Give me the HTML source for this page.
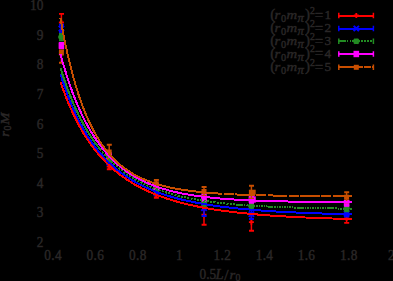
<!DOCTYPE html><html><head><meta charset="utf-8"><style>html,body{margin:0;padding:0;background:#000;overflow:hidden}</style></head><body><svg width="393" height="281" viewBox="0 0 393 281" style="display:block">
<rect width="393" height="281" fill="#000"/>
<path d="M61.4,13.9 V31" stroke="#ff0000" stroke-width="1.5" fill="none"/><path d="M59.0,13.9 H64.0 M59.0,31 H64.0" stroke="#ff0000" stroke-width="1.9" fill="none"/>
<path d="M58.9,22.5 H63.9 M61.4,20.0 V25.0" stroke="#ff0000" stroke-width="1.8" fill="none"/>
<path d="M109.2,164 V169.2" stroke="#ff0000" stroke-width="1.5" fill="none"/><path d="M106.8,164 H111.8 M106.8,169.2 H111.8" stroke="#ff0000" stroke-width="1.9" fill="none"/>
<path d="M106.7,166.5 H111.7 M109.2,164.0 V169.0" stroke="#ff0000" stroke-width="1.8" fill="none"/>
<path d="M156.3,193 V197.8" stroke="#ff0000" stroke-width="1.5" fill="none"/><path d="M153.9,193 H158.9 M153.9,197.8 H158.9" stroke="#ff0000" stroke-width="1.9" fill="none"/>
<path d="M153.8,195.5 H158.8 M156.3,193.0 V198.0" stroke="#ff0000" stroke-width="1.8" fill="none"/>
<path d="M204.0,204.6 V224.8" stroke="#ff0000" stroke-width="1.5" fill="none"/><path d="M201.6,204.6 H206.6 M201.6,224.8 H206.6" stroke="#ff0000" stroke-width="1.9" fill="none"/>
<path d="M201.5,214.7 H206.5 M204.0,212.2 V217.2" stroke="#ff0000" stroke-width="1.8" fill="none"/>
<path d="M251.4,213.8 V230.7" stroke="#ff0000" stroke-width="1.5" fill="none"/><path d="M249.0,213.8 H254.0 M249.0,230.7 H254.0" stroke="#ff0000" stroke-width="1.9" fill="none"/>
<path d="M248.9,222.2 H253.9 M251.4,219.7 V224.7" stroke="#ff0000" stroke-width="1.8" fill="none"/>
<path d="M346.6,214.2 V222.9" stroke="#ff0000" stroke-width="1.5" fill="none"/><path d="M344.20000000000005,214.2 H349.20000000000005 M344.20000000000005,222.9 H349.20000000000005" stroke="#ff0000" stroke-width="1.9" fill="none"/>
<path d="M344.1,218.5 H349.1 M346.6,216.0 V221.0" stroke="#ff0000" stroke-width="1.8" fill="none"/>
<path d="M61.4,24.8 V32.4" stroke="#0000ff" stroke-width="1.5" fill="none"/><path d="M59.0,24.8 H64.0 M59.0,32.4 H64.0" stroke="#0000ff" stroke-width="1.9" fill="none"/>
<path d="M59.4,26.6 L63.4,30.6 M59.4,30.6 L63.4,26.6" stroke="#0000ff" stroke-width="1.9" stroke-linecap="square" fill="none"/>
<path d="M109.2,160 V164.5" stroke="#0000ff" stroke-width="1.5" fill="none"/><path d="M106.8,160 H111.8 M106.8,164.5 H111.8" stroke="#0000ff" stroke-width="1.9" fill="none"/>
<path d="M107.2,160.3 L111.2,164.3 M107.2,164.3 L111.2,160.3" stroke="#0000ff" stroke-width="1.9" stroke-linecap="square" fill="none"/>
<path d="M156.3,190.5 V195" stroke="#0000ff" stroke-width="1.5" fill="none"/><path d="M153.9,190.5 H158.9 M153.9,195 H158.9" stroke="#0000ff" stroke-width="1.9" fill="none"/>
<path d="M154.3,190.8 L158.3,194.8 M154.3,194.8 L158.3,190.8" stroke="#0000ff" stroke-width="1.9" stroke-linecap="square" fill="none"/>
<path d="M204.0,200.4 V216" stroke="#0000ff" stroke-width="1.5" fill="none"/><path d="M201.6,200.4 H206.6 M201.6,216 H206.6" stroke="#0000ff" stroke-width="1.9" fill="none"/>
<path d="M202.0,206.2 L206.0,210.2 M202.0,210.2 L206.0,206.2" stroke="#0000ff" stroke-width="1.9" stroke-linecap="square" fill="none"/>
<path d="M251.4,209.5 V219" stroke="#0000ff" stroke-width="1.5" fill="none"/><path d="M249.0,209.5 H254.0 M249.0,219 H254.0" stroke="#0000ff" stroke-width="1.9" fill="none"/>
<path d="M249.4,212.2 L253.4,216.2 M249.4,216.2 L253.4,212.2" stroke="#0000ff" stroke-width="1.9" stroke-linecap="square" fill="none"/>
<path d="M346.6,211 V216.6" stroke="#0000ff" stroke-width="1.5" fill="none"/><path d="M344.20000000000005,211 H349.20000000000005 M344.20000000000005,216.6 H349.20000000000005" stroke="#0000ff" stroke-width="1.9" fill="none"/>
<path d="M344.6,211.8 L348.6,215.8 M344.6,215.8 L348.6,211.8" stroke="#0000ff" stroke-width="1.9" stroke-linecap="square" fill="none"/>
<path d="M61.4,34 V40.2" stroke="#228b22" stroke-width="1.5" fill="none"/><path d="M59.0,34 H64.0 M59.0,40.2 H64.0" stroke="#228b22" stroke-width="1.9" fill="none"/>
<path d="M59.1,34.7 L63.699999999999996,39.3 M59.1,39.3 L63.699999999999996,34.7 M58.199999999999996,37 H64.6 M61.4,34.2 V39.8" stroke="#228b22" stroke-width="2" fill="none"/>
<path d="M109.2,157.3 V161.5" stroke="#228b22" stroke-width="1.5" fill="none"/><path d="M106.8,157.3 H111.8 M106.8,161.5 H111.8" stroke="#228b22" stroke-width="1.9" fill="none"/>
<path d="M106.9,157.0 L111.5,161.60000000000002 M106.9,161.60000000000002 L111.5,157.0 M106.0,159.3 H112.4 M109.2,156.5 V162.10000000000002" stroke="#228b22" stroke-width="2" fill="none"/>
<path d="M156.3,187.5 V191.8" stroke="#228b22" stroke-width="1.5" fill="none"/><path d="M153.9,187.5 H158.9 M153.9,191.8 H158.9" stroke="#228b22" stroke-width="1.9" fill="none"/>
<path d="M154.0,187.29999999999998 L158.60000000000002,191.9 M154.0,191.9 L158.60000000000002,187.29999999999998 M153.10000000000002,189.6 H159.5 M156.3,186.79999999999998 V192.4" stroke="#228b22" stroke-width="2" fill="none"/>
<path d="M204.0,199.5 V206.3" stroke="#228b22" stroke-width="1.5" fill="none"/><path d="M201.6,199.5 H206.6 M201.6,206.3 H206.6" stroke="#228b22" stroke-width="1.9" fill="none"/>
<path d="M201.7,200.6 L206.3,205.20000000000002 M201.7,205.20000000000002 L206.3,200.6 M200.8,202.9 H207.2 M204.0,200.1 V205.70000000000002" stroke="#228b22" stroke-width="2" fill="none"/>
<path d="M251.4,202.5 V209.5" stroke="#228b22" stroke-width="1.5" fill="none"/><path d="M249.0,202.5 H254.0 M249.0,209.5 H254.0" stroke="#228b22" stroke-width="1.9" fill="none"/>
<path d="M249.1,203.7 L253.70000000000002,208.3 M249.1,208.3 L253.70000000000002,203.7 M248.20000000000002,206 H254.6 M251.4,203.2 V208.8" stroke="#228b22" stroke-width="2" fill="none"/>
<path d="M346.6,205.8 V211.4" stroke="#228b22" stroke-width="1.5" fill="none"/><path d="M344.20000000000005,205.8 H349.20000000000005 M344.20000000000005,211.4 H349.20000000000005" stroke="#228b22" stroke-width="1.9" fill="none"/>
<path d="M344.3,206.29999999999998 L348.90000000000003,210.9 M344.3,210.9 L348.90000000000003,206.29999999999998 M343.40000000000003,208.6 H349.8 M346.6,205.79999999999998 V211.4" stroke="#228b22" stroke-width="2" fill="none"/>
<path d="M61.4,43 V48.2" stroke="#ff00ff" stroke-width="1.5" fill="none"/><path d="M59.0,43 H64.0 M59.0,48.2 H64.0" stroke="#ff00ff" stroke-width="1.9" fill="none"/>
<rect x="58.6" y="42.4" width="5.6" height="6.4" fill="#ff00ff"/>
<path d="M109.2,153.5 V158" stroke="#ff00ff" stroke-width="1.5" fill="none"/><path d="M106.8,153.5 H111.8 M106.8,158 H111.8" stroke="#ff00ff" stroke-width="1.9" fill="none"/>
<rect x="106.4" y="152.60000000000002" width="5.6" height="6.4" fill="#ff00ff"/>
<path d="M156.3,184.5 V189" stroke="#ff00ff" stroke-width="1.5" fill="none"/><path d="M153.9,184.5 H158.9 M153.9,189 H158.9" stroke="#ff00ff" stroke-width="1.9" fill="none"/>
<rect x="153.5" y="183.60000000000002" width="5.6" height="6.4" fill="#ff00ff"/>
<path d="M204.0,194.5 V200.8" stroke="#ff00ff" stroke-width="1.5" fill="none"/><path d="M201.6,194.5 H206.6 M201.6,200.8 H206.6" stroke="#ff00ff" stroke-width="1.9" fill="none"/>
<rect x="201.2" y="194.4" width="5.6" height="6.4" fill="#ff00ff"/>
<path d="M251.4,196.3 V202.8" stroke="#ff00ff" stroke-width="1.5" fill="none"/><path d="M249.0,196.3 H254.0 M249.0,202.8 H254.0" stroke="#ff00ff" stroke-width="1.9" fill="none"/>
<rect x="248.6" y="196.3" width="7.199999999999999" height="6.4" fill="#ff00ff"/>
<path d="M346.6,200.6 V205.8" stroke="#ff00ff" stroke-width="1.5" fill="none"/><path d="M344.20000000000005,200.6 H349.20000000000005 M344.20000000000005,205.8 H349.20000000000005" stroke="#ff00ff" stroke-width="1.9" fill="none"/>
<rect x="343.8" y="200.0" width="5.6" height="6.4" fill="#ff00ff"/>
<path d="M61.4,50.5 V62.7" stroke="#c84e00" stroke-width="1.5" fill="none"/><path d="M59.0,50.5 H64.0 M59.0,62.7 H64.0" stroke="#c84e00" stroke-width="1.9" fill="none"/>
<rect x="58.9" y="50.5" width="5" height="5" fill="#c84e00"/>
<path d="M109.2,144.7 V159" stroke="#c84e00" stroke-width="1.5" fill="none"/><path d="M106.8,144.7 H111.8 M106.8,159 H111.8" stroke="#c84e00" stroke-width="1.9" fill="none"/>
<rect x="106.7" y="149.5" width="5" height="5" fill="#c84e00"/>
<path d="M156.3,180 V187.6" stroke="#c84e00" stroke-width="1.5" fill="none"/><path d="M153.9,180 H158.9 M153.9,187.6 H158.9" stroke="#c84e00" stroke-width="1.9" fill="none"/>
<rect x="153.8" y="181.3" width="5" height="5" fill="#c84e00"/>
<path d="M204.0,187 V196" stroke="#c84e00" stroke-width="1.5" fill="none"/><path d="M201.6,187 H206.6 M201.6,196 H206.6" stroke="#c84e00" stroke-width="1.9" fill="none"/>
<rect x="201.5" y="189.0" width="5" height="5" fill="#c84e00"/>
<path d="M251.4,185.8 V198.6" stroke="#c84e00" stroke-width="1.5" fill="none"/><path d="M249.0,185.8 H254.0 M249.0,198.6 H254.0" stroke="#c84e00" stroke-width="1.9" fill="none"/>
<rect x="248.9" y="189.7" width="6.8" height="5" fill="#c84e00"/>
<path d="M346.6,192.2 V202.2" stroke="#c84e00" stroke-width="1.5" fill="none"/><path d="M344.20000000000005,192.2 H349.20000000000005 M344.20000000000005,202.2 H349.20000000000005" stroke="#c84e00" stroke-width="1.9" fill="none"/>
<rect x="344.1" y="194.7" width="5" height="5" fill="#c84e00"/>
<path d="M60.4,81.7 L62.8,88.7 L65.3,95.3 L67.7,101.5 L70.2,107.3 L72.6,112.7 L75.1,117.9 L77.5,122.7 L80.0,127.2 L82.4,131.5 L84.9,135.5 L87.3,139.3 L89.8,142.9 L92.2,146.3 L94.7,149.6 L97.1,152.6 L99.6,155.5 L102.0,158.3 L104.5,160.9 L106.9,163.4 L109.4,165.7 L111.8,168.0 L114.3,170.1 L116.7,172.1 L119.2,174.1 L121.6,175.9 L124.1,177.7 L126.5,179.4 L129.0,181.0 L131.4,182.5 L133.9,184.0 L136.3,185.4 L138.8,186.7 L141.2,188.0 L143.7,189.2 L146.1,190.4 L148.6,191.5 L151.0,192.6 L153.5,193.6 L155.9,194.6 L158.3,195.6 L160.8,196.5 L163.2,197.3 L165.7,198.2 L168.1,199.0 L170.6,199.8 L173.0,200.5 L175.5,201.2 L177.9,201.9 L180.4,202.6 L182.8,203.2 L185.3,203.8 L187.7,204.4 L190.2,204.9 L192.6,205.5 L195.1,206.0 L197.5,206.5 L200.0,207.0 L202.4,207.5 L204.9,207.9 L207.3,208.3 L209.8,208.8 L212.2,209.2 L214.7,209.6 L217.1,209.9 L219.6,210.3 L222.0,210.6 L224.5,211.0 L226.9,211.3 L229.4,211.6 L231.8,211.9 L234.3,212.2 L236.7,212.5 L239.2,212.8 L241.6,213.0 L244.1,213.3 L246.5,213.5 L249.0,213.8 L251.4,214.0 L253.9,214.2 L256.3,214.4 L258.7,214.6 L261.2,214.8 L263.6,215.0 L266.1,215.2 L268.5,215.4 L271.0,215.6 L273.4,215.7 L275.9,215.9 L278.3,216.1 L280.8,216.2 L283.2,216.4 L285.7,216.5 L288.1,216.6 L290.6,216.8 L293.0,216.9 L295.5,217.0 L297.9,217.2 L300.4,217.3 L302.8,217.4 L305.3,217.5 L307.7,217.6 L310.2,217.7 L312.6,217.8 L315.1,217.9 L317.5,218.0 L320.0,218.1 L322.4,218.2 L324.9,218.3 L327.3,218.4 L329.8,218.4 L332.2,218.5 L334.7,218.6 L337.1,218.7 L339.6,218.7 L342.0,218.8 L344.5,218.9 L346.9,218.9 L349.4,219.0 L351.8,219.1" fill="none" stroke="#ff0000" stroke-width="2" shape-rendering="crispEdges"/>
<path d="M60.4,73.7 L62.8,81.4 L65.3,88.6 L67.7,95.3 L70.2,101.6 L72.6,107.4 L75.1,112.9 L77.5,118.0 L80.0,122.9 L82.4,127.4 L84.9,131.6 L87.3,135.6 L89.8,139.4 L92.2,142.9 L94.7,146.3 L97.1,149.5 L99.6,152.5 L102.0,155.3 L104.5,158.0 L106.9,160.5 L109.4,162.9 L111.8,165.2 L114.3,167.3 L116.7,169.4 L119.2,171.3 L121.6,173.2 L124.1,174.9 L126.5,176.6 L129.0,178.2 L131.4,179.7 L133.9,181.2 L136.3,182.6 L138.8,183.9 L141.2,185.1 L143.7,186.3 L146.1,187.5 L148.6,188.6 L151.0,189.6 L153.5,190.6 L155.9,191.6 L158.3,192.5 L160.8,193.4 L163.2,194.2 L165.7,195.0 L168.1,195.8 L170.6,196.5 L173.0,197.2 L175.5,197.9 L177.9,198.6 L180.4,199.2 L182.8,199.8 L185.3,200.3 L187.7,200.9 L190.2,201.4 L192.6,201.9 L195.1,202.4 L197.5,202.9 L200.0,203.3 L202.4,203.8 L204.9,204.2 L207.3,204.6 L209.8,205.0 L212.2,205.4 L214.7,205.7 L217.1,206.1 L219.6,206.4 L222.0,206.7 L224.5,207.0 L226.9,207.3 L229.4,207.6 L231.8,207.9 L234.3,208.1 L236.7,208.4 L239.2,208.6 L241.6,208.9 L244.1,209.1 L246.5,209.3 L249.0,209.5 L251.4,209.7 L253.9,209.9 L256.3,210.1 L258.7,210.3 L261.2,210.5 L263.6,210.7 L266.1,210.8 L268.5,211.0 L271.0,211.2 L273.4,211.3 L275.9,211.5 L278.3,211.6 L280.8,211.7 L283.2,211.9 L285.7,212.0 L288.1,212.1 L290.6,212.2 L293.0,212.3 L295.5,212.5 L297.9,212.6 L300.4,212.7 L302.8,212.8 L305.3,212.9 L307.7,213.0 L310.2,213.0 L312.6,213.1 L315.1,213.2 L317.5,213.3 L320.0,213.4 L322.4,213.5 L324.9,213.5 L327.3,213.6 L329.8,213.7 L332.2,213.7 L334.7,213.8 L337.1,213.9 L339.6,213.9 L342.0,214.0 L344.5,214.0 L346.9,214.1 L349.4,214.2 L351.8,214.2" fill="none" stroke="#0000ff" stroke-width="2" shape-rendering="crispEdges"/>
<path d="M60.4,67.7 L61.1,69.9 L61.7,72.0 L62.4,74.1 L63.1,76.2 L63.8,78.2 L64.4,80.2 L65.1,82.1 L65.8,84.0 L66.4,85.9 L67.1,87.8 L67.8,89.6 L68.5,91.4 L69.1,93.1 L69.8,94.8 L70.5,96.5 L71.1,98.2 L71.8,99.8 L72.5,101.4 L73.2,103.0 L73.8,104.6 L74.5,106.1 L75.2,107.6 L75.8,109.1 L76.5,110.5 L77.2,112.0 L77.9,113.4 L78.5,114.8 L79.2,116.1 L79.9,117.5 L80.5,118.8 L81.2,120.1 L81.9,121.3 L82.5,122.6 L83.2,123.8 L83.9,125.0 L84.6,126.2 L85.2,127.4 L85.9,128.6 L86.6,129.7 L87.2,130.8 L87.9,131.9 L88.6,133.0 L89.3,134.1 L89.9,135.1 L90.6,136.1 L91.3,137.2 L91.9,138.2 L92.6,139.2 L93.3,140.1 L94.0,141.1 L94.6,142.0 L95.3,142.9 L96.0,143.9 L96.6,144.8 L97.3,145.6 L98.0,146.5 L98.7,147.4 L99.3,148.2 L100.0,149.0" fill="none" stroke="#228b22" stroke-width="2" shape-rendering="crispEdges"/>
<path d="M100.0,149.0 L102.0,151.4 L103.9,153.7 L105.9,155.9 L107.9,157.9 L109.9,159.9 L111.8,161.8 L113.8,163.6 L115.8,165.4 L117.7,167.1 L119.7,168.7 L121.7,170.2 L123.7,171.7 L125.6,173.1 L127.6,174.5 L129.6,175.8 L131.5,177.0 L133.5,178.2 L135.5,179.4 L137.4,180.5 L139.4,181.5 L141.4,182.5 L143.4,183.5 L145.3,184.5 L147.3,185.4 L149.3,186.2 L151.2,187.1 L153.2,187.9 L155.2,188.7 L157.2,189.4 L159.1,190.1 L161.1,190.8 L163.1,191.5 L165.0,192.1 L167.0,192.7 L169.0,193.3 L171.0,193.9 L172.9,194.4 L174.9,194.9 L176.9,195.4 L178.8,195.9 L180.8,196.4 L182.8,196.9 L184.8,197.3 L186.7,197.7 L188.7,198.1 L190.7,198.5 L192.6,198.9 L194.6,199.2 L196.6,199.6 L198.6,199.9 L200.5,200.2 L202.5,200.6 L204.5,200.9 L206.4,201.2 L208.4,201.4 L210.4,201.7 L212.3,202.0 L214.3,202.2 L216.3,202.5 L218.3,202.7 L220.2,202.9 L222.2,203.1 L224.2,203.3 L226.1,203.5 L228.1,203.7 L230.1,203.9 L232.1,204.1 L234.0,204.3 L236.0,204.5" fill="none" stroke="#228b22" stroke-width="2" shape-rendering="crispEdges" stroke-dasharray="2,1.3"/>
<path d="M236.0,204.5 L238.0,204.6 L239.9,204.8 L241.9,204.9 L243.9,205.1 L245.8,205.2 L247.8,205.4 L249.7,205.5 L251.7,205.6 L253.7,205.7 L255.6,205.9 L257.6,206.0 L259.6,206.1 L261.5,206.2 L263.5,206.3 L265.4,206.4 L267.4,206.5 L269.4,206.6 L271.3,206.7 L273.3,206.8 L275.3,206.8 L277.2,206.9 L279.2,207.0 L281.1,207.1 L283.1,207.2 L285.1,207.2 L287.0,207.3 L289.0,207.4 L291.0,207.4 L292.9,207.5 L294.9,207.5 L296.8,207.6 L298.8,207.7 L300.8,207.7 L302.7,207.8 L304.7,207.8 L306.7,207.9 L308.6,207.9 L310.6,208.0 L312.5,208.0 L314.5,208.0 L316.5,208.1 L318.4,208.1 L320.4,208.2 L322.4,208.2 L324.3,208.2 L326.3,208.3 L328.2,208.3 L330.2,208.3 L332.2,208.4 L334.1,208.4 L336.1,208.4 L338.1,208.5 L340.0,208.5 L342.0,208.5 L343.9,208.5 L345.9,208.6 L347.9,208.6 L349.8,208.6 L351.8,208.6" fill="none" stroke="#228b22" stroke-width="2" shape-rendering="crispEdges" stroke-dasharray="7,1,1.5,1,1.5,1,1.5,1,1.5,1,1.5,1,1.5,1,1.5,1,1.5,1,1.5,1"/>
<path d="M60.4,54.0 L62.8,62.8 L65.3,70.9 L67.7,78.6 L70.2,85.8 L72.6,92.6 L75.1,98.9 L77.5,104.9 L80.0,110.4 L82.4,115.7 L84.9,120.6 L87.3,125.2 L89.8,129.6 L92.2,133.7 L94.7,137.5 L97.1,141.2 L99.6,144.6 L102.0,147.8 L104.5,150.8 L106.9,153.7 L109.4,156.4 L111.8,158.9 L114.3,161.3 L116.7,163.6 L119.2,165.7 L121.6,167.7 L124.1,169.6 L126.5,171.4 L129.0,173.0 L131.4,174.6 L133.9,176.1 L136.3,177.6 L138.8,178.9 L141.2,180.2 L143.7,181.4 L146.1,182.5 L148.6,183.5 L151.0,184.6 L153.5,185.5 L155.9,186.4 L158.3,187.3 L160.8,188.1 L163.2,188.8 L165.7,189.5 L168.1,190.2 L170.6,190.9 L173.0,191.5 L175.5,192.1 L177.9,192.6 L180.4,193.1 L182.8,193.6 L185.3,194.1 L187.7,194.5 L190.2,194.9 L192.6,195.3 L195.1,195.7 L197.5,196.0 L200.0,196.4 L202.4,196.7 L204.9,197.0 L207.3,197.3 L209.8,197.5 L212.2,197.8 L214.7,198.0 L217.1,198.2 L219.6,198.5 L222.0,198.7 L224.5,198.9 L226.9,199.0 L229.4,199.2 L231.8,199.4 L234.3,199.5 L236.7,199.7 L239.2,199.8 L241.6,199.9 L244.1,200.1 L246.5,200.2 L249.0,200.3 L251.4,200.4 L253.9,200.5 L256.3,200.6 L258.7,200.7 L261.2,200.8 L263.6,200.9 L266.1,200.9 L268.5,201.0 L271.0,201.1 L273.4,201.2 L275.9,201.2 L278.3,201.3 L280.8,201.3 L283.2,201.4 L285.7,201.4 L288.1,201.5 L290.6,201.5 L293.0,201.6 L295.5,201.6 L297.9,201.7 L300.4,201.7 L302.8,201.7 L305.3,201.8 L307.7,201.8 L310.2,201.8 L312.6,201.9 L315.1,201.9 L317.5,201.9 L320.0,201.9 L322.4,202.0 L324.9,202.0 L327.3,202.0 L329.8,202.0 L332.2,202.0 L334.7,202.1 L337.1,202.1 L339.6,202.1 L342.0,202.1 L344.5,202.1 L346.9,202.1 L349.4,202.1 L351.8,202.2" fill="none" stroke="#ff00ff" stroke-width="2" shape-rendering="crispEdges"/>
<path d="M60.4,17.9 L62.8,31.1 L65.2,43.3 L67.6,54.4 L70.1,64.6 L72.5,74.1 L74.9,82.7 L77.3,90.7 L79.7,98.0 L82.1,104.8 L84.5,111.1 L86.9,116.9 L89.4,122.3 L91.8,127.2 L94.2,131.8 L96.6,136.1 L99.0,140.0 L101.4,143.7 L103.8,147.1 L106.3,150.3 L108.7,153.3 L111.1,156.0 L113.5,158.6 L115.9,160.9 L118.3,163.2 L120.7,165.2 L123.2,167.2 L125.6,169.0 L128.0,170.6 L130.4,172.2 L132.8,173.7 L135.2,175.1 L137.6,176.3 L140.0,177.6 L142.5,178.7 L144.9,179.7 L147.3,180.7 L149.7,181.6 L152.1,182.5 L154.5,183.3 L156.9,184.1 L159.4,184.8 L161.8,185.5 L164.2,186.1 L166.6,186.7 L169.0,187.2 L171.4,187.8 L173.8,188.2 L176.3,188.7 L178.7,189.1 L181.1,189.5 L183.5,189.9 L185.9,190.3 L188.3,190.6 L190.7,190.9 L193.1,191.2 L195.6,191.5 L198.0,191.8 L200.4,192.0 L202.8,192.3" fill="none" stroke="#c84e00" stroke-width="2" shape-rendering="crispEdges"/>
<path d="M202.8,192.3 L204.7,192.4 L206.6,192.6 L208.5,192.8 L210.3,192.9 L212.2,193.1 L214.1,193.2 L216.0,193.3 L217.9,193.5 L219.8,193.6 L221.7,193.7 L223.5,193.8 L225.4,193.9 L227.3,194.0 L229.2,194.1 L231.1,194.2 L233.0,194.3 L234.9,194.4 L236.7,194.5 L238.6,194.5 L240.5,194.6 L242.4,194.7 L244.3,194.7 L246.2,194.8 L248.1,194.9 L250.0,194.9 L251.8,195.0 L253.7,195.0 L255.6,195.1 L257.5,195.1 L259.4,195.2 L261.3,195.2 L263.2,195.3 L265.0,195.3 L266.9,195.3 L268.8,195.4 L270.7,195.4 L272.6,195.5 L274.5,195.5 L276.4,195.5 L278.2,195.5 L280.1,195.6 L282.0,195.6 L283.9,195.6 L285.8,195.7 L287.7,195.7 L289.6,195.7 L291.4,195.7 L293.3,195.7 L295.2,195.8 L297.1,195.8 L299.0,195.8 L300.9,195.8 L302.8,195.8 L304.6,195.9 L306.5,195.9 L308.4,195.9 L310.3,195.9 L312.2,195.9 L314.1,195.9 L316.0,195.9 L317.9,196.0 L319.7,196.0 L321.6,196.0 L323.5,196.0 L325.4,196.0 L327.3,196.0 L329.2,196.0 L331.1,196.0 L332.9,196.0 L334.8,196.0 L336.7,196.1 L338.6,196.1 L340.5,196.1 L342.4,196.1 L344.3,196.1 L346.1,196.1 L348.0,196.1 L349.9,196.1 L351.8,196.1" fill="none" stroke="#c84e00" stroke-width="2" shape-rendering="crispEdges" stroke-dasharray="19.5,1.5,10,1.5"/>
<path d="M338.3,15.5 H373.8" stroke="#ff0000" stroke-width="2" shape-rendering="crispEdges"/>
<path d="M338.8,12.8 V18.2 M373.4,12.8 V18.2" stroke="#ff0000" stroke-width="1.5"/>
<path d="M353.8,15.5 H358.8 M356.3,13.0 V18.0" stroke="#ff0000" stroke-width="1.8" fill="none"/>
<path d="M338.3,28.5 H373.8" stroke="#0000ff" stroke-width="2" shape-rendering="crispEdges"/>
<path d="M338.8,25.8 V31.2 M373.4,25.8 V31.2" stroke="#0000ff" stroke-width="1.5"/>
<path d="M354.3,26.5 L358.3,30.5 M354.3,30.5 L358.3,26.5" stroke="#0000ff" stroke-width="1.9" stroke-linecap="square" fill="none"/>
<path d="M338.3,41.3 H345.6" stroke="#228b22" stroke-width="2" shape-rendering="crispEdges"/>
<path d="M346.6,41.3 H373.8" stroke="#228b22" stroke-width="2" shape-rendering="crispEdges" stroke-dasharray="1.7,1.2"/>
<path d="M338.8,38.599999999999994 V44.0 M373.4,38.599999999999994 V44.0" stroke="#228b22" stroke-width="1.5"/>
<path d="M354.0,39.0 L358.6,43.599999999999994 M354.0,43.599999999999994 L358.6,39.0 M353.1,41.3 H359.5 M356.3,38.5 V44.099999999999994" stroke="#228b22" stroke-width="2" fill="none"/>
<path d="M338.3,54 H373.8" stroke="#ff00ff" stroke-width="2" shape-rendering="crispEdges"/>
<path d="M338.8,51.3 V56.7 M373.4,51.3 V56.7" stroke="#ff00ff" stroke-width="1.5"/>
<rect x="353.5" y="50.8" width="5.6" height="6.4" fill="#ff00ff"/>
<path d="M338.3,67.3 H373.8" stroke="#c84e00" stroke-width="2" shape-rendering="crispEdges" stroke-dasharray="24.4,1.6,6.5,1.6"/>
<path d="M338.8,64.6 V70.0 M373.4,64.6 V70.0" stroke="#c84e00" stroke-width="1.5"/>
<rect x="353.8" y="64.8" width="5" height="5" fill="#c84e00"/>
<text transform="translate(43.4,246.6) scale(1.0,1.07)" font-size="13.3" text-anchor="end" font-family="Liberation Serif, serif" fill="#2a2727" stroke="#2a2727" stroke-width="0.4">2</text>
<text transform="translate(43.4,217.1) scale(1.0,1.07)" font-size="13.3" text-anchor="end" font-family="Liberation Serif, serif" fill="#2a2727" stroke="#2a2727" stroke-width="0.4">3</text>
<text transform="translate(43.4,187.5) scale(1.0,1.07)" font-size="13.3" text-anchor="end" font-family="Liberation Serif, serif" fill="#2a2727" stroke="#2a2727" stroke-width="0.4">4</text>
<text transform="translate(43.4,158.0) scale(1.0,1.07)" font-size="13.3" text-anchor="end" font-family="Liberation Serif, serif" fill="#2a2727" stroke="#2a2727" stroke-width="0.4">5</text>
<text transform="translate(43.4,128.5) scale(1.0,1.07)" font-size="13.3" text-anchor="end" font-family="Liberation Serif, serif" fill="#2a2727" stroke="#2a2727" stroke-width="0.4">6</text>
<text transform="translate(43.4,98.9) scale(1.0,1.07)" font-size="13.3" text-anchor="end" font-family="Liberation Serif, serif" fill="#2a2727" stroke="#2a2727" stroke-width="0.4">7</text>
<text transform="translate(43.4,69.4) scale(1.0,1.07)" font-size="13.3" text-anchor="end" font-family="Liberation Serif, serif" fill="#2a2727" stroke="#2a2727" stroke-width="0.4">8</text>
<text transform="translate(43.4,39.9) scale(1.0,1.07)" font-size="13.3" text-anchor="end" font-family="Liberation Serif, serif" fill="#2a2727" stroke="#2a2727" stroke-width="0.4">9</text>
<text transform="translate(43.4,10.4) scale(1.0,1.07)" font-size="13.3" text-anchor="end" font-family="Liberation Serif, serif" fill="#2a2727" stroke="#2a2727" stroke-width="0.4">10</text>
<text transform="translate(53.2,259.6) scale(1.0,1.07)" font-size="13.3" text-anchor="middle" letter-spacing="0.35" font-family="Liberation Serif, serif" fill="#2a2727" stroke="#2a2727" stroke-width="0.4">0.4</text>
<text transform="translate(95.3,259.6) scale(1.0,1.07)" font-size="13.3" text-anchor="middle" letter-spacing="0.35" font-family="Liberation Serif, serif" fill="#2a2727" stroke="#2a2727" stroke-width="0.4">0.6</text>
<text transform="translate(137.8,259.6) scale(1.0,1.07)" font-size="13.3" text-anchor="middle" letter-spacing="0.35" font-family="Liberation Serif, serif" fill="#2a2727" stroke="#2a2727" stroke-width="0.4">0.8</text>
<text transform="translate(179.3,259.6) scale(1.0,1.07)" font-size="13.3" text-anchor="middle" font-family="Liberation Serif, serif" fill="#2a2727" stroke="#2a2727" stroke-width="0.4">1</text>
<text transform="translate(222.4,259.6) scale(1.0,1.07)" font-size="13.3" text-anchor="middle" letter-spacing="0.35" font-family="Liberation Serif, serif" fill="#2a2727" stroke="#2a2727" stroke-width="0.4">1.2</text>
<text transform="translate(264.5,259.6) scale(1.0,1.07)" font-size="13.3" text-anchor="middle" letter-spacing="0.35" font-family="Liberation Serif, serif" fill="#2a2727" stroke="#2a2727" stroke-width="0.4">1.4</text>
<text transform="translate(306.5,259.6) scale(1.0,1.07)" font-size="13.3" text-anchor="middle" letter-spacing="0.35" font-family="Liberation Serif, serif" fill="#2a2727" stroke="#2a2727" stroke-width="0.4">1.6</text>
<text transform="translate(348.9,259.6) scale(1.0,1.07)" font-size="13.3" text-anchor="middle" letter-spacing="0.35" font-family="Liberation Serif, serif" fill="#2a2727" stroke="#2a2727" stroke-width="0.4">1.8</text>
<text transform="translate(391.2,259.6) scale(1.0,1.07)" font-size="13.3" text-anchor="middle" font-family="Liberation Serif, serif" fill="#2a2727" stroke="#2a2727" stroke-width="0.4">2</text>
<text transform="translate(199.6,278.6) scale(1.0,1.07)" font-size="13.3" text-anchor="start" font-family="Liberation Serif, serif" fill="#2a2727" stroke="#2a2727" stroke-width="0.4">0.5</text>
<text transform="translate(215.6,278.6) scale(1.04,1.04)" font-size="14" text-anchor="start" font-style="italic" font-family="Liberation Serif, serif" fill="#2a2727" stroke="#2a2727" stroke-width="0.4">L</text>
<text transform="translate(224.3,279.8) scale(1.0,1.0)" font-size="15.5" text-anchor="start" font-family="Liberation Serif, serif" fill="#2a2727" stroke="#2a2727" stroke-width="0.4">/</text>
<text transform="translate(229.6,278.6) scale(1.1,1.0)" font-size="13.4" text-anchor="start" font-style="italic" font-family="Liberation Serif, serif" fill="#2a2727" stroke="#2a2727" stroke-width="0.4">r</text>
<text transform="translate(235.6,280.8) scale(1.0,1.0)" font-size="9.8" text-anchor="start" font-family="Liberation Serif, serif" fill="#2a2727" stroke="#2a2727" stroke-width="0.4">0</text>
<text transform="translate(8.8,136.8) rotate(-90) translate(0,0.0) scale(1.1,1.0)" font-size="13.4" text-anchor="start" font-style="italic" font-family="Liberation Serif, serif" fill="#2a2727" stroke="#2a2727" stroke-width="0.4">r</text>
<text transform="translate(8.8,136.8) rotate(-90) translate(6.3,2.6) scale(1.0,1.0)" font-size="9.8" text-anchor="start" font-family="Liberation Serif, serif" fill="#2a2727" stroke="#2a2727" stroke-width="0.4">0</text>
<text transform="translate(8.8,136.8) rotate(-90) translate(12.0,0.0) scale(1.09,1.0)" font-size="13.4" text-anchor="start" font-style="italic" font-family="Liberation Serif, serif" fill="#2a2727" stroke="#2a2727" stroke-width="0.4">M</text>
<text transform="translate(270.2,19.3) scale(1.0,1.0)" font-size="15" text-anchor="start" font-family="Liberation Serif, serif" fill="#2a2727" stroke="#2a2727" stroke-width="0.4">(</text>
<text transform="translate(274.6,19.0) scale(1.1,1.0)" font-size="13.4" text-anchor="start" font-style="italic" font-family="Liberation Serif, serif" fill="#2a2727" stroke="#2a2727" stroke-width="0.4">r</text>
<text transform="translate(281,22.0) scale(1.05,1.0)" font-size="9.8" text-anchor="start" font-family="Liberation Serif, serif" fill="#2a2727" stroke="#2a2727" stroke-width="0.4">0</text>
<text transform="translate(286.6,19.0) scale(1.1,1.0)" font-size="13.4" text-anchor="start" font-style="italic" font-family="Liberation Serif, serif" fill="#2a2727" stroke="#2a2727" stroke-width="0.4">m</text>
<text transform="translate(297.4,22.0) scale(1.1,1.0)" font-size="11.5" text-anchor="start" font-style="italic" font-family="Liberation Serif, serif" fill="#2a2727" stroke="#2a2727" stroke-width="0.4">π</text>
<text transform="translate(305.0,19.3) scale(1.0,1.0)" font-size="15" text-anchor="start" font-family="Liberation Serif, serif" fill="#2a2727" stroke="#2a2727" stroke-width="0.4">)</text>
<text transform="translate(310.0,13.7) scale(1.0,1.0)" font-size="9.8" text-anchor="start" font-family="Liberation Serif, serif" fill="#2a2727" stroke="#2a2727" stroke-width="0.4">2</text>
<text transform="translate(314.7,19.9) scale(1.0,1.0)" font-size="15" text-anchor="start" font-family="Liberation Serif, serif" fill="#2a2727" stroke="#2a2727" stroke-width="0.4">=</text>
<text transform="translate(324.6,19.0) scale(1.0,1.0)" font-size="13.3" text-anchor="start" font-family="Liberation Serif, serif" fill="#2a2727" stroke="#2a2727" stroke-width="0.4">1</text>
<text transform="translate(270.2,32.3) scale(1.0,1.0)" font-size="15" text-anchor="start" font-family="Liberation Serif, serif" fill="#2a2727" stroke="#2a2727" stroke-width="0.4">(</text>
<text transform="translate(274.6,32.0) scale(1.1,1.0)" font-size="13.4" text-anchor="start" font-style="italic" font-family="Liberation Serif, serif" fill="#2a2727" stroke="#2a2727" stroke-width="0.4">r</text>
<text transform="translate(281,35.0) scale(1.05,1.0)" font-size="9.8" text-anchor="start" font-family="Liberation Serif, serif" fill="#2a2727" stroke="#2a2727" stroke-width="0.4">0</text>
<text transform="translate(286.6,32.0) scale(1.1,1.0)" font-size="13.4" text-anchor="start" font-style="italic" font-family="Liberation Serif, serif" fill="#2a2727" stroke="#2a2727" stroke-width="0.4">m</text>
<text transform="translate(297.4,35.0) scale(1.1,1.0)" font-size="11.5" text-anchor="start" font-style="italic" font-family="Liberation Serif, serif" fill="#2a2727" stroke="#2a2727" stroke-width="0.4">π</text>
<text transform="translate(305.0,32.3) scale(1.0,1.0)" font-size="15" text-anchor="start" font-family="Liberation Serif, serif" fill="#2a2727" stroke="#2a2727" stroke-width="0.4">)</text>
<text transform="translate(310.0,26.7) scale(1.0,1.0)" font-size="9.8" text-anchor="start" font-family="Liberation Serif, serif" fill="#2a2727" stroke="#2a2727" stroke-width="0.4">2</text>
<text transform="translate(314.7,32.9) scale(1.0,1.0)" font-size="15" text-anchor="start" font-family="Liberation Serif, serif" fill="#2a2727" stroke="#2a2727" stroke-width="0.4">=</text>
<text transform="translate(324.6,32.0) scale(1.0,1.0)" font-size="13.3" text-anchor="start" font-family="Liberation Serif, serif" fill="#2a2727" stroke="#2a2727" stroke-width="0.4">2</text>
<text transform="translate(270.2,45.1) scale(1.0,1.0)" font-size="15" text-anchor="start" font-family="Liberation Serif, serif" fill="#2a2727" stroke="#2a2727" stroke-width="0.4">(</text>
<text transform="translate(274.6,44.8) scale(1.1,1.0)" font-size="13.4" text-anchor="start" font-style="italic" font-family="Liberation Serif, serif" fill="#2a2727" stroke="#2a2727" stroke-width="0.4">r</text>
<text transform="translate(281,47.8) scale(1.05,1.0)" font-size="9.8" text-anchor="start" font-family="Liberation Serif, serif" fill="#2a2727" stroke="#2a2727" stroke-width="0.4">0</text>
<text transform="translate(286.6,44.8) scale(1.1,1.0)" font-size="13.4" text-anchor="start" font-style="italic" font-family="Liberation Serif, serif" fill="#2a2727" stroke="#2a2727" stroke-width="0.4">m</text>
<text transform="translate(297.4,47.8) scale(1.1,1.0)" font-size="11.5" text-anchor="start" font-style="italic" font-family="Liberation Serif, serif" fill="#2a2727" stroke="#2a2727" stroke-width="0.4">π</text>
<text transform="translate(305.0,45.1) scale(1.0,1.0)" font-size="15" text-anchor="start" font-family="Liberation Serif, serif" fill="#2a2727" stroke="#2a2727" stroke-width="0.4">)</text>
<text transform="translate(310.0,39.5) scale(1.0,1.0)" font-size="9.8" text-anchor="start" font-family="Liberation Serif, serif" fill="#2a2727" stroke="#2a2727" stroke-width="0.4">2</text>
<text transform="translate(314.7,45.7) scale(1.0,1.0)" font-size="15" text-anchor="start" font-family="Liberation Serif, serif" fill="#2a2727" stroke="#2a2727" stroke-width="0.4">=</text>
<text transform="translate(324.6,44.8) scale(1.0,1.0)" font-size="13.3" text-anchor="start" font-family="Liberation Serif, serif" fill="#2a2727" stroke="#2a2727" stroke-width="0.4">3</text>
<text transform="translate(270.2,57.8) scale(1.0,1.0)" font-size="15" text-anchor="start" font-family="Liberation Serif, serif" fill="#2a2727" stroke="#2a2727" stroke-width="0.4">(</text>
<text transform="translate(274.6,57.5) scale(1.1,1.0)" font-size="13.4" text-anchor="start" font-style="italic" font-family="Liberation Serif, serif" fill="#2a2727" stroke="#2a2727" stroke-width="0.4">r</text>
<text transform="translate(281,60.5) scale(1.05,1.0)" font-size="9.8" text-anchor="start" font-family="Liberation Serif, serif" fill="#2a2727" stroke="#2a2727" stroke-width="0.4">0</text>
<text transform="translate(286.6,57.5) scale(1.1,1.0)" font-size="13.4" text-anchor="start" font-style="italic" font-family="Liberation Serif, serif" fill="#2a2727" stroke="#2a2727" stroke-width="0.4">m</text>
<text transform="translate(297.4,60.5) scale(1.1,1.0)" font-size="11.5" text-anchor="start" font-style="italic" font-family="Liberation Serif, serif" fill="#2a2727" stroke="#2a2727" stroke-width="0.4">π</text>
<text transform="translate(305.0,57.8) scale(1.0,1.0)" font-size="15" text-anchor="start" font-family="Liberation Serif, serif" fill="#2a2727" stroke="#2a2727" stroke-width="0.4">)</text>
<text transform="translate(310.0,52.2) scale(1.0,1.0)" font-size="9.8" text-anchor="start" font-family="Liberation Serif, serif" fill="#2a2727" stroke="#2a2727" stroke-width="0.4">2</text>
<text transform="translate(314.7,58.4) scale(1.0,1.0)" font-size="15" text-anchor="start" font-family="Liberation Serif, serif" fill="#2a2727" stroke="#2a2727" stroke-width="0.4">=</text>
<text transform="translate(324.6,57.5) scale(1.0,1.0)" font-size="13.3" text-anchor="start" font-family="Liberation Serif, serif" fill="#2a2727" stroke="#2a2727" stroke-width="0.4">4</text>
<text transform="translate(270.2,71.1) scale(1.0,1.0)" font-size="15" text-anchor="start" font-family="Liberation Serif, serif" fill="#2a2727" stroke="#2a2727" stroke-width="0.4">(</text>
<text transform="translate(274.6,70.8) scale(1.1,1.0)" font-size="13.4" text-anchor="start" font-style="italic" font-family="Liberation Serif, serif" fill="#2a2727" stroke="#2a2727" stroke-width="0.4">r</text>
<text transform="translate(281,73.8) scale(1.05,1.0)" font-size="9.8" text-anchor="start" font-family="Liberation Serif, serif" fill="#2a2727" stroke="#2a2727" stroke-width="0.4">0</text>
<text transform="translate(286.6,70.8) scale(1.1,1.0)" font-size="13.4" text-anchor="start" font-style="italic" font-family="Liberation Serif, serif" fill="#2a2727" stroke="#2a2727" stroke-width="0.4">m</text>
<text transform="translate(297.4,73.8) scale(1.1,1.0)" font-size="11.5" text-anchor="start" font-style="italic" font-family="Liberation Serif, serif" fill="#2a2727" stroke="#2a2727" stroke-width="0.4">π</text>
<text transform="translate(305.0,71.1) scale(1.0,1.0)" font-size="15" text-anchor="start" font-family="Liberation Serif, serif" fill="#2a2727" stroke="#2a2727" stroke-width="0.4">)</text>
<text transform="translate(310.0,65.5) scale(1.0,1.0)" font-size="9.8" text-anchor="start" font-family="Liberation Serif, serif" fill="#2a2727" stroke="#2a2727" stroke-width="0.4">2</text>
<text transform="translate(314.7,71.7) scale(1.0,1.0)" font-size="15" text-anchor="start" font-family="Liberation Serif, serif" fill="#2a2727" stroke="#2a2727" stroke-width="0.4">=</text>
<text transform="translate(324.6,70.8) scale(1.0,1.0)" font-size="13.3" text-anchor="start" font-family="Liberation Serif, serif" fill="#2a2727" stroke="#2a2727" stroke-width="0.4">5</text>
</svg></body></html>
